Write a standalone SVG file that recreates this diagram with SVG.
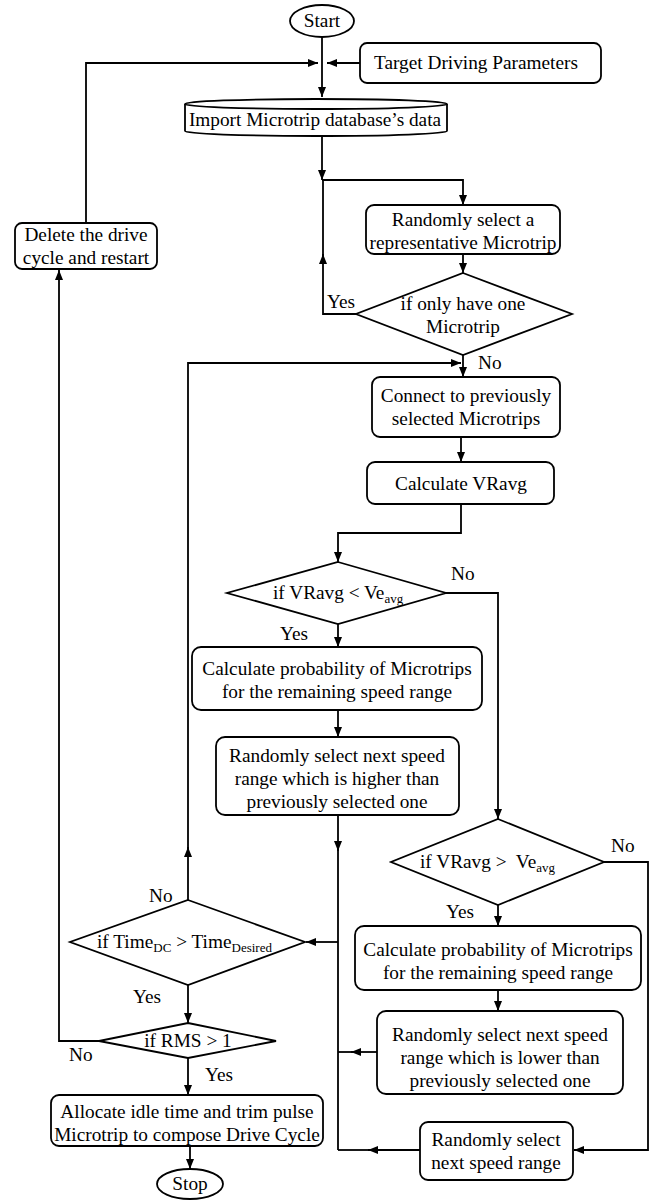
<svg xmlns="http://www.w3.org/2000/svg" width="653" height="1200" viewBox="0 0 653 1200">
<defs>
<marker id="ah" viewBox="0 0 10 8" refX="10" refY="4" markerWidth="10" markerHeight="8" markerUnits="userSpaceOnUse" orient="auto"><path d="M0,0 L10,4 L0,8 Z" fill="#000"/></marker>
<style>
.n{fill:#fff;stroke:#000;stroke-width:1.8}
.c{fill:none;stroke:#000;stroke-width:1.8}
.t{font-family:'Liberation Serif','DejaVu Serif',serif;font-size:19.3px;fill:#000}
.m{text-anchor:middle}
.s{font-size:13px}
</style>
</defs>
<rect width="653" height="1200" fill="#fff"/>
<g id="connectors">
<path class="c" d="M322,37 V97" marker-end="url(#ah)"/>
<path class="c" d="M86,223 V63 H318" marker-end="url(#ah)"/>
<path class="c" d="M360,63 H327" marker-end="url(#ah)"/>
<path class="c" d="M322,136 V180" marker-end="url(#ah)"/>
<path class="c" d="M322,180 H463 V205" marker-end="url(#ah)"/>
<path class="c" d="M463,254 V273" marker-end="url(#ah)"/>
<path class="c" d="M356,314 H323 V254" marker-end="url(#ah)"/>
<path class="c" d="M323,256 V180"/>
<path class="c" d="M463,355 V377" marker-end="url(#ah)"/>
<path class="c" d="M188,900 V847" marker-end="url(#ah)"/>
<path class="c" d="M188,849 V363 H461" marker-end="url(#ah)"/>
<path class="c" d="M461,437 V462" marker-end="url(#ah)"/>
<path class="c" d="M461,504 V533 H338 V562" marker-end="url(#ah)"/>
<path class="c" d="M446,593 H498 V819" marker-end="url(#ah)"/>
<path class="c" d="M338,624 V647" marker-end="url(#ah)"/>
<path class="c" d="M338,710 V737" marker-end="url(#ah)"/>
<path class="c" d="M338,815 V851" marker-end="url(#ah)"/>
<path class="c" d="M338,849 V1150"/>
<path class="c" d="M338,942 H306" marker-end="url(#ah)"/>
<path class="c" d="M498,905 V926" marker-end="url(#ah)"/>
<path class="c" d="M498,990 V1011" marker-end="url(#ah)"/>
<path class="c" d="M377,1052 H351" marker-end="url(#ah)"/>
<path class="c" d="M353,1052 H338"/>
<path class="c" d="M604,862 H648 V1150 H574" marker-end="url(#ah)"/>
<path class="c" d="M420,1150 H368" marker-end="url(#ah)"/>
<path class="c" d="M370,1150 H338"/>
<path class="c" d="M188,985 V1023" marker-end="url(#ah)"/>
<path class="c" d="M99,1041 H59 V270" marker-end="url(#ah)"/>
<path class="c" d="M188,1058 V1095" marker-end="url(#ah)"/>
<path class="c" d="M190,1146 V1169" marker-end="url(#ah)"/>
</g>
<g id="labels" class="t">
<text x="327" y="308">Yes</text>
<text x="478" y="369">No</text>
<text x="451" y="580">No</text>
<text x="280" y="640">Yes</text>
<text x="611" y="852">No</text>
<text x="446" y="918">Yes</text>
<text x="149" y="902">No</text>
<text x="133" y="1003">Yes</text>
<text x="69" y="1061">No</text>
<text x="205" y="1081">Yes</text>
</g>
<g id="start" class="t">
<ellipse class="n" cx="322" cy="21" rx="32" ry="16"/>
<text class="m" x="322" y="27">Start</text>
</g>
<g id="target" class="t">
<rect class="n" x="360" y="43" width="241" height="40" rx="7"/>
<text class="m" x="476" y="69">Target Driving Parameters</text>
</g>
<g id="import" class="t">
<path class="n" d="M185,104 A131,5 0 0 1 447,104 V131 A131,5 0 0 1 185,131 Z"/>
<path class="c" d="M185,104 A131,5 0 0 0 447,104"/>
<text class="m" x="315" y="126">Import Microtrip database’s data</text>
</g>
<g id="delete" class="t">
<rect class="n" x="15" y="223" width="142" height="46" rx="7"/>
<text class="m" x="86" y="241">Delete the drive</text>
<text class="m" x="86" y="264">cycle and restart</text>
</g>
<g id="select-rep" class="t">
<rect class="n" x="366" y="205" width="194" height="49" rx="8"/>
<text class="m" x="463" y="226">Randomly select a</text>
<text class="m" x="463" y="249">representative Microtrip</text>
</g>
<g id="one-microtrip" class="t">
<polygon class="n" points="463,273 572,314 463,355 356,314"/>
<text class="m" x="463" y="310">if only have one</text>
<text class="m" x="463" y="333">Microtrip</text>
</g>
<g id="connect" class="t">
<rect class="n" x="372" y="377" width="188" height="60" rx="8"/>
<text class="m" x="466" y="402">Connect to previously</text>
<text class="m" x="466" y="425">selected Microtrips</text>
</g>
<g id="calc-vravg" class="t">
<rect class="n" x="367" y="462" width="187" height="42" rx="8"/>
<text class="m" x="461" y="490">Calculate VRavg</text>
</g>
<g id="vravg-lt" class="t">
<polygon class="n" points="338,562 446,593 338,624 227,593"/>
<text x="273" y="599">if VRavg &lt; Ve<tspan class="s" dy="4">avg</tspan></text>
</g>
<g id="calc-prob-1" class="t">
<rect class="n" x="192" y="647" width="290" height="63" rx="9"/>
<text class="m" x="337" y="675">Calculate probability of Microtrips</text>
<text class="m" x="337" y="698">for the remaining speed range</text>
</g>
<g id="select-higher" class="t">
<rect class="n" x="216" y="737" width="243" height="78" rx="9"/>
<text class="m" x="337" y="762">Randomly select next speed</text>
<text class="m" x="337" y="785">range which is higher than</text>
<text class="m" x="337" y="808">previously selected one</text>
</g>
<g id="vravg-gt" class="t">
<polygon class="n" points="498,819 604,862 498,905 391,862"/>
<text x="420" y="868" xml:space="preserve">if VRavg &gt;  Ve<tspan class="s" dy="4">avg</tspan></text>
</g>
<g id="calc-prob-2" class="t">
<rect class="n" x="355" y="926" width="286" height="64" rx="9"/>
<text class="m" x="498" y="956">Calculate probability of Microtrips</text>
<text class="m" x="498" y="979">for the remaining speed range</text>
</g>
<g id="select-lower" class="t">
<rect class="n" x="377" y="1011" width="246" height="83" rx="9"/>
<text class="m" x="500" y="1041">Randomly select next speed</text>
<text class="m" x="500" y="1064">range which is lower than</text>
<text class="m" x="500" y="1087">previously selected one</text>
</g>
<g id="select-next" class="t">
<rect class="n" x="420" y="1122" width="153" height="58" rx="8"/>
<text class="m" x="496" y="1146">Randomly select</text>
<text class="m" x="496" y="1169">next speed range</text>
</g>
<g id="time-check" class="t">
<polygon class="n" points="188,900 305,942 188,985 70,942"/>
<text x="97" y="948">if Time<tspan class="s" dy="4">DC</tspan><tspan dy="-4"> &gt; Time</tspan><tspan class="s" dy="4">Desired</tspan></text>
</g>
<g id="rms-check" class="t">
<polygon class="n" points="188,1023 276,1041 188,1058 99,1041"/>
<text class="m" x="188" y="1047">if RMS &gt; 1</text>
</g>
<g id="allocate" class="t">
<rect class="n" x="51" y="1095" width="272" height="51" rx="8"/>
<text class="m" x="187" y="1118">Allocate idle time and trim pulse</text>
<text class="m" x="187" y="1141">Microtrip to compose Drive Cycle</text>
</g>
<g id="stop" class="t">
<ellipse class="n" cx="190" cy="1184" rx="33" ry="15"/>
<text class="m" x="190" y="1190">Stop</text>
</g>
</svg>
